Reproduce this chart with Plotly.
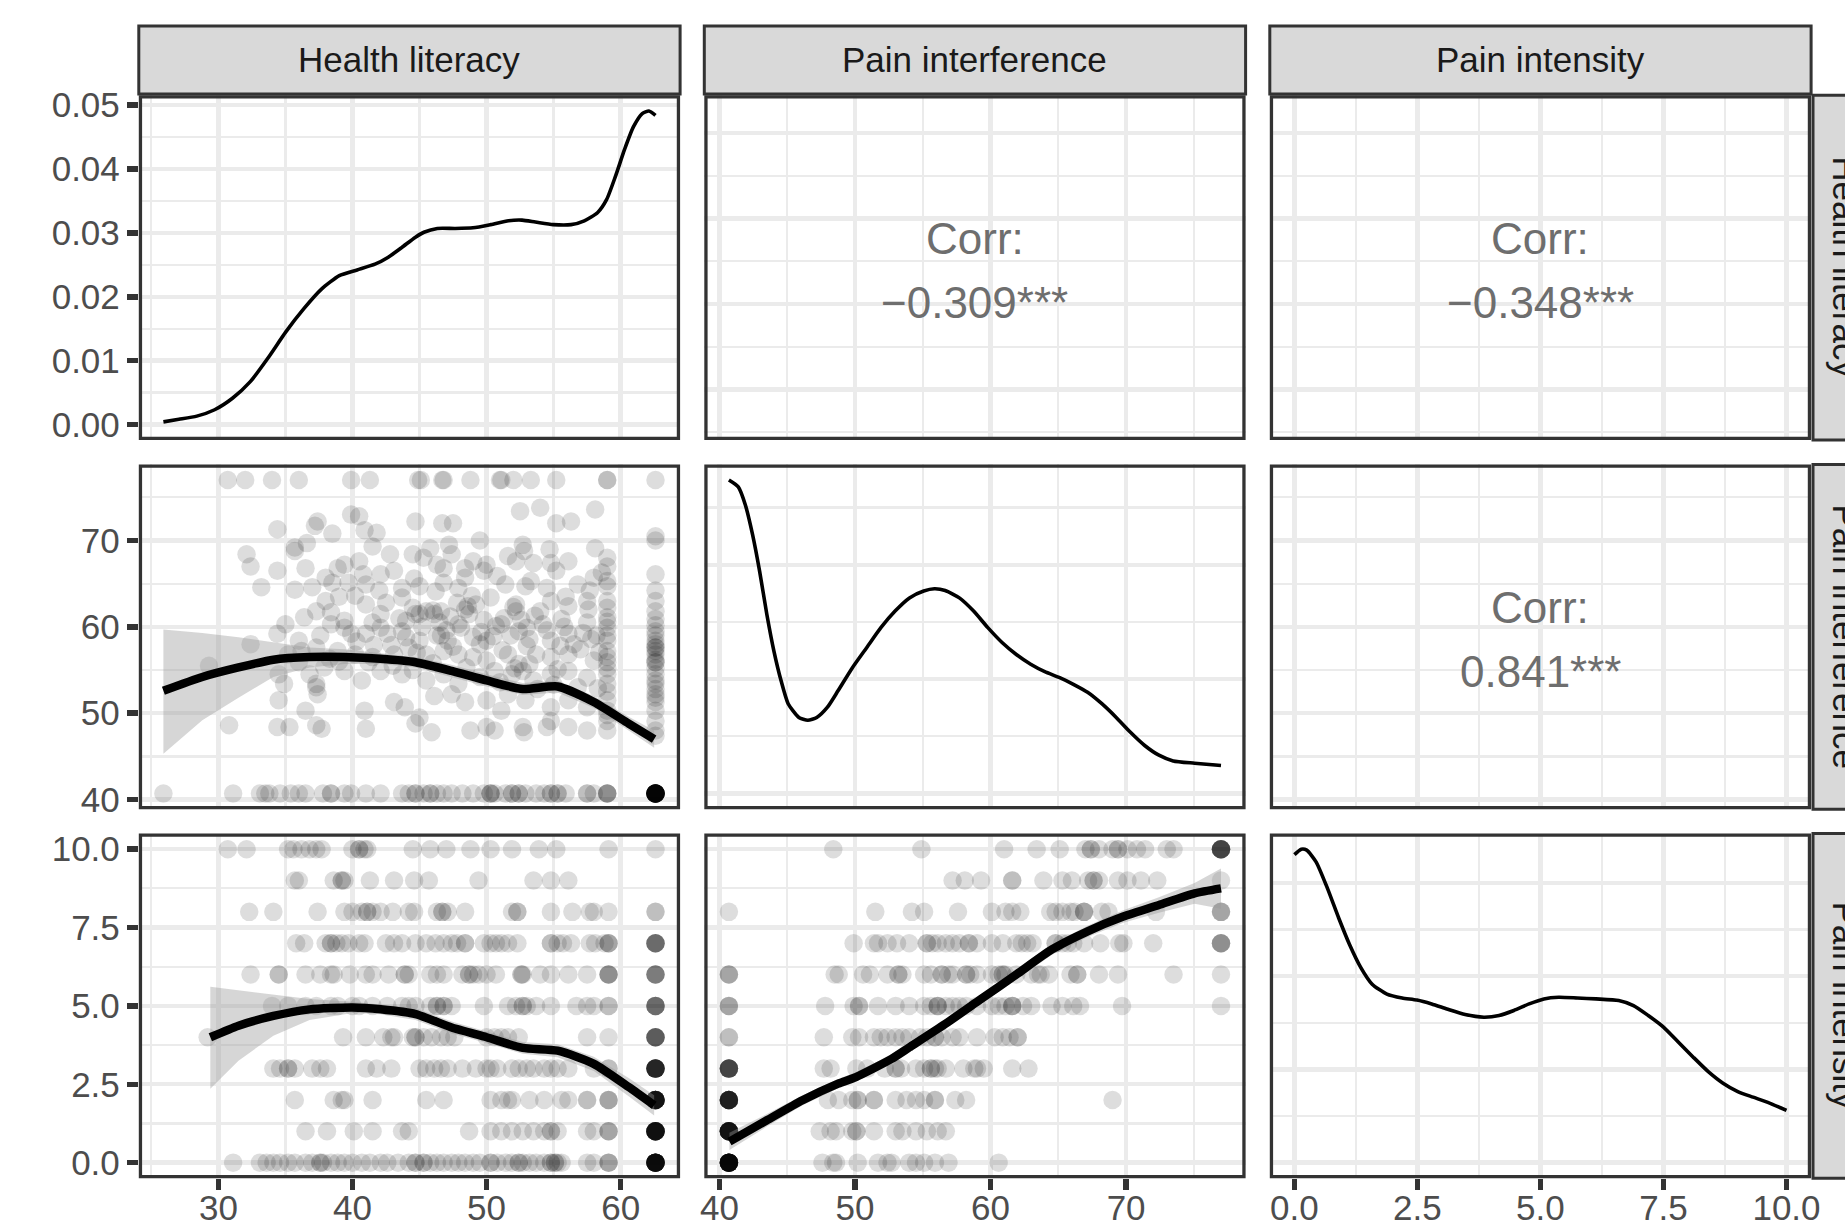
import plotly.graph_objects as go

# ------------------------------------------------------------------ data
variables = ["Health literacy", "Pain interference", "Pain intensity"]

corr_hl_pinf = "\u22120.309***"
corr_hl_pint = "\u22120.348***"
corr_pinf_pint = "0.841***"

# density curves (diagonal)
hl_dens_x = [25.9, 27.06, 28.39, 29.72, 31.05, 32.38, 33.7, 35.03, 36.36, 37.69, 39.02, 40.35,
             41.68, 42.67, 43.67, 44.67, 45.33, 46.33, 47.66, 48.99, 50.31, 51.64, 52.64, 53.64,
             54.97, 56.3, 57.29, 58.29, 58.95, 59.62, 60.28, 60.95, 61.61, 62.11, 62.6]
hl_dens_y = [0.0004, 0.0008, 0.0013, 0.0023, 0.0041, 0.0067, 0.0104, 0.0145, 0.0181, 0.0212, 0.0233,
             0.0242, 0.0251, 0.0262, 0.0277, 0.0293, 0.0301, 0.0307, 0.0307, 0.0308, 0.0313, 0.0319,
             0.032, 0.0317, 0.0313, 0.0313, 0.0319, 0.0332, 0.0352, 0.0389, 0.043, 0.0466, 0.0487,
             0.0491, 0.0484]

pinf_dens_x = [40.7, 41.39, 41.92, 42.45, 42.97, 43.5, 44.02, 44.55, 45.07, 45.86, 46.52, 47.18,
               47.97, 48.76, 49.81, 50.86, 51.91, 52.96, 54.02, 55.07, 55.86, 56.65, 57.7, 58.75,
               59.8, 60.85, 61.9, 62.96, 64.0, 65.06, 66.11, 67.16, 68.21, 69.27, 70.32, 71.37,
               72.42, 73.47, 75.05, 77.0]
pinf_dens_y = [0.0548, 0.0536, 0.0504, 0.0452, 0.0388, 0.0313, 0.0249, 0.0197, 0.0157, 0.0133,
               0.0128, 0.0133, 0.0151, 0.018, 0.022, 0.0255, 0.029, 0.0319, 0.0342, 0.0354, 0.0358,
               0.0355, 0.0342, 0.0319, 0.029, 0.0264, 0.0243, 0.0226, 0.0213, 0.0203, 0.0191,
               0.0177, 0.0157, 0.0133, 0.0107, 0.0084, 0.0067, 0.0057, 0.0053, 0.0049]

pint_dens_x = [0.0, 0.14, 0.25, 0.44, 0.67, 0.9, 1.12, 1.35, 1.58, 1.88, 2.19, 2.49, 2.79, 3.1,
               3.47, 3.85, 4.16, 4.46, 4.77, 5.07, 5.37, 5.75, 6.13, 6.59, 6.89, 7.19, 7.5, 7.8,
               8.1, 8.41, 8.71, 9.01, 9.32, 9.62, 10.0]
pint_dens_y = [0.1652, 0.1681, 0.1676, 0.1613, 0.1472, 0.1312, 0.117, 0.1046, 0.0957, 0.0904,
               0.0883, 0.0872, 0.0851, 0.0824, 0.0794, 0.078, 0.0789, 0.0816, 0.0851, 0.0878,
               0.0887, 0.0883, 0.0878, 0.0869, 0.0842, 0.0789, 0.0727, 0.0647, 0.0567, 0.0488,
               0.0426, 0.0381, 0.0351, 0.0323, 0.028]

# Health literacy vs Pain interference
pinf_floor = 40.7
pinf_ceiling = 77.0
hl_at_pinf_ceiling = [30.7, 32.0, 34.0, 36.0, 39.9, 41.3, 44.9, 45.1, 46.7, 46.8, 48.8, 51.0, 51.1,
                      52.0, 53.3, 55.2, 59.0, 59.0, 62.6]
hl_at_pinf_floor = [25.9, 31.1, 33.1, 33.5, 33.8, 34.6, 35.4, 36.0, 36.5, 37.8, 38.4, 38.4, 39.4,
                    39.9, 41.0, 42.1, 43.7, 44.2, 44.7, 44.7, 45.3, 45.8, 45.8, 46.3, 46.8, 47.4,
                    48.2, 49.0, 49.8, 50.3, 50.3, 50.3, 50.6, 51.4, 51.9, 51.9, 52.4, 52.4, 52.9,
                    53.7, 54.3, 54.8, 54.8, 55.3, 55.3, 55.9, 57.5, 57.5, 58.0, 59.0, 59.0, 59.0,
                    59.0] + [62.6] * 25
hl_pinf_pairs = [
    (52.5, 73.4), (54.0, 73.8), (58.1, 73.6), (39.9, 73.0), (40.5, 72.8), (37.4, 72.2), (37.2, 71.7),
    (34.4, 71.3), (38.5, 70.8), (40.9, 71.2), (41.8, 70.9), (44.7, 72.2), (46.7, 72.0), (47.5, 72.0),
    (55.2, 72.0), (56.3, 72.2), (62.6, 70.5), (62.6, 70.0),
    (35.7, 69.2), (36.6, 69.7), (41.5, 69.3), (45.8, 69.1), (47.2, 69.5), (49.5, 70.0), (52.7, 69.5),
    (52.8, 68.8), (54.7, 69.0), (58.1, 69.1), (32.1, 68.4), (32.4, 67.0), (34.4, 66.5), (35.7, 68.8),
    (36.5, 66.8), (38.9, 66.8), (39.4, 67.2), (40.5, 67.6), (44.5, 68.4), (45.3, 68.0), (46.3, 67.2),
    (46.8, 66.8), (47.4, 68.4), (48.4, 66.8), (49.0, 67.6), (50.0, 67.2), (51.6, 68.2), (52.2, 67.6),
    (53.5, 67.4), (54.8, 67.4), (55.2, 66.5), (56.1, 67.6), (59.0, 68.0), (59.0, 67.0),
    (33.2, 64.6), (35.7, 64.3), (38.0, 65.7), (38.5, 65.1), (39.7, 65.1), (41.0, 64.9), (42.1, 66.1),
    (43.1, 66.5), (43.7, 64.5), (45.0, 64.7), (46.8, 65.1), (48.4, 65.7), (49.8, 66.5), (51.4, 64.9),
    (52.9, 64.7), (54.5, 64.5), (56.8, 64.9), (58.0, 65.7), (59.0, 65.3), (59.0, 64.7), (62.6, 66.1),
    (62.6, 64.2),
    (36.4, 61.1), (37.3, 61.8), (38.4, 61.7), (39.4, 60.7), (40.2, 63.6), (41.0, 62.6), (42.1, 61.5),
    (43.7, 63.4), (44.5, 62.2), (44.7, 61.5), (45.5, 61.8), (46.1, 61.5), (46.6, 61.8), (48.4, 62.0),
    (48.7, 61.5), (50.3, 63.4), (52.2, 62.6), (52.2, 61.8), (54.0, 61.8), (54.8, 63.0), (56.1, 62.4),
    (57.5, 63.0), (59.0, 62.2), (59.0, 61.1), (62.6, 63.0), (62.6, 61.8), (62.6, 60.9),
    (34.4, 59.2), (36.0, 58.4), (37.6, 59.0), (38.4, 60.3), (39.4, 59.9), (39.9, 59.2), (41.0, 59.2),
    (42.1, 59.9), (42.6, 59.2), (43.7, 59.5), (45.0, 58.4), (46.6, 59.0), (47.1, 58.4), (47.9, 60.3),
    (49.0, 58.8), (50.0, 58.4), (51.1, 60.3), (52.4, 59.5), (53.2, 58.6), (54.8, 58.4), (56.1, 59.2),
    (57.5, 60.5), (59.0, 59.9), (59.0, 59.0), (59.0, 58.4), (62.6, 59.5), (62.6, 59.0), (62.6, 58.4),
    (32.4, 58.0), (35.2, 56.8), (36.2, 57.2), (37.3, 57.6), (38.9, 57.2), (40.2, 56.8), (41.5, 56.5),
    (43.1, 56.8), (44.2, 57.6), (45.5, 56.8), (46.8, 57.2), (47.9, 56.8), (49.0, 56.5), (50.0, 56.1),
    (51.6, 56.8), (52.4, 55.7), (53.7, 56.8), (54.8, 56.5), (56.1, 56.8), (58.0, 56.1), (59.0, 55.9),
    (62.6, 57.6), (62.6, 56.8), (62.6, 55.9), (62.6, 54.5),
    (29.3, 55.5), (34.5, 54.5), (34.9, 53.4), (36.8, 54.5), (37.3, 53.4), (39.4, 54.9), (40.7, 53.8),
    (42.1, 54.9), (43.7, 54.5), (45.5, 53.8), (46.8, 54.5), (47.9, 53.4), (50.6, 54.9), (51.9, 54.5),
    (52.7, 54.9), (53.5, 53.8), (54.8, 54.5), (56.1, 54.9), (57.5, 54.1), (59.0, 54.5), (59.0, 53.4),
    (62.6, 53.4), (62.6, 52.2), (62.6, 51.3),
    (34.5, 51.5), (36.5, 50.3), (37.3, 53.0), (37.4, 52.2), (40.9, 50.3), (43.1, 51.3), (43.9, 50.7),
    (45.0, 49.5), (46.1, 52.0), (47.4, 52.2), (48.4, 51.3), (50.0, 51.5), (51.1, 50.3), (51.6, 52.2),
    (52.9, 51.5), (54.8, 50.7), (56.1, 51.5), (57.5, 50.7), (59.0, 51.5), (59.0, 50.3), (62.6, 50.3),
    (30.8, 48.6), (34.4, 48.4), (35.3, 48.4), (37.3, 48.6), (37.7, 48.2), (41.0, 48.2), (44.7, 48.8),
    (45.9, 47.8), (48.8, 48.0), (50.0, 48.4), (50.6, 48.0), (52.7, 48.4), (52.8, 47.8), (54.5, 48.4),
    (54.8, 49.1), (56.1, 48.4), (57.5, 48.0), (59.0, 49.1), (59.0, 48.0), (62.6, 49.1), (62.6, 48.0),
    (62.6, 47.4),
    (45.0, 61.5), (46.0, 61.9), (48.6, 62.4), (49.2, 62.6), (46.3, 59.0), (47.0, 59.6), (44.8, 57.0),
    (47.5, 57.7), (49.5, 58.0), (51.2, 57.3), (53.0, 57.8), (55.5, 57.8), (40.3, 58.3), (41.6, 57.9),
    (38.3, 56.3), (52.1, 55.2), (53.2, 55.7), (55.3, 55.1), (52.0, 62.3), (53.0, 59.9), (57.0, 57.4),
    (58.2, 59.0), (58.4, 57.1), (42.9, 57.9), (44.0, 60.7), (46.2, 64.1), (47.9, 64.5), (51.3, 61.0),
    (50.7, 60.1), (39.0, 63.5), (40.8, 66.1), (42.8, 68.4), (37.0, 64.6), (55.6, 60.9), (57.6, 62.0),
    (58.6, 66.3), (57.2, 59.3), (54.2, 60.3), (48.1, 59.9), (49.8, 60.8),
    (41.5, 60.5), (42.5, 62.8), (43.5, 61.0), (44.0, 58.8), (45.2, 60.0), (46.5, 60.5), (47.3, 61.2),
    (47.8, 62.8), (48.9, 63.6), (49.6, 59.4), (50.5, 58.9), (51.8, 59.0), (52.6, 60.8), (53.6, 61.3),
    (54.5, 59.6), (55.8, 60.0), (56.5, 58.0), (57.8, 58.6), (43.0, 55.5), (44.5, 55.0), (46.0, 55.8),
    (48.5, 55.3), (49.5, 54.2), (51.0, 53.6), (53.8, 52.8), (55.0, 53.3), (56.8, 53.0), (58.3, 52.9),
    (41.2, 55.9), (39.0, 56.0), (37.9, 55.3), (36.0, 55.9), (35.0, 60.3), (38.0, 63.0), (42.0, 64.2),
    (44.6, 65.6), (50.8, 65.9), (53.3, 65.3), (55.9, 63.5), (57.7, 64.2),
    (62.6, 60.2), (62.6, 58.0), (62.6, 57.2), (62.6, 56.2), (62.6, 55.2), (62.6, 53.8), (62.6, 52.8),
    (62.6, 51.8), (62.6, 55.9), (62.6, 57.6),
    (59.0, 63.0), (59.0, 60.6), (59.0, 57.2), (59.0, 56.5), (59.0, 55.2), (59.0, 52.5), (59.0, 49.8),
]

# Pain intensity levels (0..10) and the values observed at each level
pint_levels = [0, 1, 2, 3, 4, 5, 6, 7, 8, 9, 10]
hl_by_pint = [
    [31.1, 33.1, 33.6, 34.1, 34.6, 35.2, 35.7, 36.5, 37.0, 37.6, 37.6, 37.8, 38.4, 38.9, 39.4, 40.0,
     40.7, 41.3, 42.1, 42.6, 43.4, 44.2, 44.7, 44.7, 45.3, 45.3, 45.8, 46.3, 46.8, 47.4, 47.9, 48.4,
     49.0, 49.5, 50.3, 50.3, 50.8, 51.4, 51.9, 52.4, 52.4, 52.7, 53.2, 53.7, 54.3, 54.8, 54.8, 55.1,
     55.1, 55.3, 55.6, 57.5, 58.0, 59.1, 59.1, 59.1] + [62.6] * 20,
    [36.5, 38.1, 40.1, 41.5, 43.7, 44.2, 48.7, 50.3, 51.1, 51.9, 52.7, 53.5, 54.3, 54.8, 54.8, 55.3,
     57.5, 58.0, 59.1, 59.1, 59.1] + [62.6] * 18,
    [35.7, 38.6, 39.2, 39.4, 41.5, 45.5, 46.8, 50.3, 51.1, 51.6, 51.9, 53.2, 54.3, 55.6, 56.1, 57.5,
     57.5, 59.1, 59.1, 59.1] + [62.6] * 17,
    [34.1, 34.6, 35.2, 35.2, 35.7, 37.0, 37.6, 38.1, 41.0, 41.8, 42.9, 45.0, 45.5, 46.1, 46.6, 47.1,
     48.2, 49.2, 50.0, 50.3, 50.8, 51.9, 52.4, 53.0, 53.5, 54.3, 54.8, 55.3, 56.1, 58.0, 59.1,
     59.1] + [62.6] * 13,
    [29.2, 39.3, 41.0, 42.3, 42.9, 43.1, 44.5, 44.7, 44.7, 45.3, 45.9, 46.6, 47.1, 47.6, 50.0, 50.6,
     51.1, 51.6, 52.4, 57.5, 59.1] + [62.6] * 7,
    [34.0, 35.2, 36.5, 37.3, 38.4, 38.9, 40.0, 40.5, 41.5, 42.6, 43.7, 44.2, 44.7, 45.8, 46.3, 46.3,
     46.8, 46.8, 47.4, 49.8, 51.6, 52.2, 52.7, 52.7, 53.0, 53.7, 54.8, 56.7, 57.5, 58.0, 59.1,
     59.1] + [62.6] * 6,
    [32.4, 34.5, 34.5, 36.5, 37.6, 38.4, 38.6, 39.8, 41.0, 41.5, 42.7, 43.9, 43.9, 44.2, 45.8, 46.3,
     46.8, 48.2, 48.7, 48.7, 49.0, 49.4, 50.0, 50.7, 52.6, 52.6, 52.7, 54.0, 54.8, 56.1, 57.5, 59.1,
     59.1, 59.1, 59.1] + [62.6] * 5,
    [35.8, 36.4, 38.0, 38.4, 38.4, 38.8, 39.2, 39.7, 40.5, 40.9, 42.5, 43.1, 43.7, 44.7, 45.5, 46.2,
     46.8, 47.4, 47.8, 48.4, 48.4, 49.8, 50.3, 50.7, 51.1, 51.6, 52.3, 54.8, 54.8, 55.3, 55.7, 56.3,
     57.7, 58.1, 58.8, 59.1, 59.1, 59.1] + [62.6] * 6,
    [32.3, 34.1, 37.4, 39.4, 40.0, 40.7, 41.1, 41.1, 41.5, 42.1, 43.0, 44.2, 44.6, 46.3, 46.7, 46.7,
     47.1, 48.4, 51.9, 52.3, 52.3, 54.8, 56.4, 57.7, 58.0, 59.1, 62.6, 62.6],
    [35.7, 36.0, 38.6, 39.2, 39.2, 39.4, 41.3, 43.1, 44.6, 45.7, 49.4, 53.5, 54.8, 56.1],
    [30.7, 32.1, 35.2, 35.6, 36.2, 36.8, 37.3, 37.7, 40.0, 40.5, 40.5, 40.9, 41.1, 44.5, 45.8, 47.0,
     48.8, 50.3, 51.9, 53.9, 55.2, 59.1, 62.6],
]
pinf_by_pint = [
    [pinf_floor] * 22 + [47.6, 48.4, 48.6, 50.2, 51.7, 52.4, 52.7, 54.0, 54.5, 55.1, 55.9, 56.9, 60.6],
    [pinf_floor] * 17 + [47.4, 48.2, 48.6, 49.8, 50.1, 50.1, 51.4, 53.0, 53.5, 54.5, 55.3, 56.1, 56.7],
    [pinf_floor] * 14 + [48.0, 48.8, 49.8, 50.2, 50.2, 51.4, 51.4, 53.0, 53.8, 54.5, 55.1, 55.9, 55.9,
                         57.4, 58.2, 69.0],
    [pinf_floor] * 9 + [47.7, 48.2, 50.1, 50.9, 52.2, 53.0, 53.0, 53.4, 54.5, 55.1, 55.6, 55.6, 55.9,
                        56.1, 56.7, 58.0, 58.8, 59.0, 59.5, 61.6, 62.8],
    [pinf_floor] * 2 + [47.7, 49.8, 50.3, 51.4, 51.9, 52.4, 53.0, 53.5, 54.0, 54.8, 55.3, 55.9, 55.9,
                        56.4, 57.2, 57.7, 59.0, 60.3, 60.9, 61.4, 62.0, 62.0],
    [pinf_floor] * 3 + [47.8, 49.9, 50.3, 50.3, 51.7, 53.0, 54.0, 55.1, 55.6, 56.1, 56.1, 56.1, 56.7,
                        57.2, 57.7, 58.2, 59.0, 60.1, 60.6, 61.1, 61.6, 61.6, 61.6, 62.4, 63.0, 64.5,
                        65.3, 66.1, 66.6, 69.7, pinf_ceiling],
    [pinf_floor] * 3 + [48.5, 48.8, 50.6, 51.1, 52.4, 53.2, 53.2, 53.5, 55.1, 55.6, 56.4, 56.4, 56.9,
                        57.2, 58.2, 58.2, 58.5, 59.0, 60.1, 60.6, 60.9, 60.9, 61.1, 61.9, 63.0, 63.5,
                        63.7, 64.3, 65.9, 66.4, 66.4, 68.0, 69.4, 73.5, pinf_ceiling],
    [49.9, 51.4, 51.7, 52.4, 53.1, 54.0, 55.3, 55.3, 55.7, 56.1, 56.7, 57.2, 57.7, 58.4, 58.4, 59.0,
     60.1, 60.9, 61.9, 62.3, 62.7, 63.1, 64.8, 64.8, 65.3, 65.7, 66.1, 66.9, 68.1, 69.5, 69.8, 72.0]
    + [pinf_ceiling] * 4,
    [pinf_floor, 51.5, 54.2, 55.1, 57.6, 60.1, 61.1, 61.6, 62.2, 64.4, 64.8, 65.3, 65.9, 66.2, 66.9,
     66.9, 66.9, 68.2, 68.7, 72.2] + [pinf_ceiling] * 3,
    [57.2, 58.1, 59.3, 61.6, 61.6, 63.9, 65.3, 66.0, 67.2, 67.6, 67.6, 68.0, 69.4, 70.1, 71.1, 72.3,
     pinf_ceiling],
    [48.4, 54.9, 61.0, 63.4, 65.1, 67.0, 67.4, 67.4, 68.0, 69.0, 69.4, 69.4, 70.1, 70.8, 71.4, 73.0,
     73.5] + [pinf_ceiling] * 9,
]

# smooth fits with confidence band
sm_hl_pinf_x = [25.9, 28.8, 31.5, 34.1, 36.8, 39.4, 42.1, 44.7, 47.4, 50.0, 52.7, 55.3, 58.0, 60.6, 62.5]
sm_hl_pinf_fit = [52.6, 54.2, 55.3, 56.2, 56.5, 56.5, 56.3, 55.9, 54.9, 53.8, 52.8, 53.1, 51.3, 48.8, 47.0]
sm_hl_pinf_hi = [59.7, 59.3, 58.8, 58.2, 57.6, 57.4, 56.9, 56.5, 55.6, 54.5, 53.5, 53.8, 52.0, 49.6, 48.0]
sm_hl_pinf_lo = [45.3, 49.2, 51.8, 54.2, 55.3, 55.7, 55.7, 55.3, 54.2, 53.1, 52.1, 52.4, 50.6, 48.0, 46.0]

sm_hl_pint_x = [29.4, 31.5, 34.1, 36.8, 40.0, 42.1, 44.7, 47.4, 50.0, 52.7, 55.3, 58.0, 60.6, 62.5]
sm_hl_pint_fit = [4.0, 4.37, 4.68, 4.89, 4.95, 4.89, 4.74, 4.31, 4.0, 3.66, 3.57, 3.15, 2.41, 1.83]
sm_hl_pint_hi = [5.61, 5.5, 5.35, 5.22, 5.13, 5.05, 4.93, 4.5, 4.18, 3.85, 3.78, 3.38, 2.7, 2.15]
sm_hl_pint_lo = [2.36, 3.25, 4.05, 4.55, 4.77, 4.73, 4.55, 4.12, 3.82, 3.47, 3.36, 2.92, 2.12, 1.5]

sm_pinf_pint_x = [40.74, 43.5, 46.13, 48.76, 50.07, 52.7, 54.02, 56.65, 59.27, 61.9, 64.53, 67.16,
                  69.79, 72.42, 75.05, 77.0]
sm_pinf_pint_fit = [0.67, 1.35, 1.99, 2.52, 2.73, 3.31, 3.68, 4.42, 5.21, 6.0, 6.8, 7.38, 7.85, 8.22,
                    8.59, 8.75]
sm_pinf_pint_hi = [0.95, 1.55, 2.15, 2.67, 2.88, 3.46, 3.83, 4.57, 5.36, 6.16, 6.97, 7.56, 8.05, 8.47,
                   8.92, 9.38]
sm_pinf_pint_lo = [0.40, 1.15, 1.83, 2.37, 2.58, 3.16, 3.53, 4.27, 5.06, 5.84, 6.63, 7.2, 7.65, 7.97,
                   8.26, 8.1]

# tick definitions
hl_ticks = [30, 40, 50, 60]
hl_minor = [25, 35, 45, 55, 65]
pinf_ticks = [40, 50, 60, 70]
pinf_minor = [45, 55, 65, 75]
pint_ticks = [0, 2.5, 5, 7.5, 10]
pint_ticktext = ["0.0", "2.5", "5.0", "7.5", "10.0"]
pint_minor = [1.25, 3.75, 6.25, 8.75]
hl_dens_ticks = [0, 0.01, 0.02, 0.03, 0.04, 0.05]
hl_dens_ticktext = ["0.00", "0.01", "0.02", "0.03", "0.04", "0.05"]
hl_dens_minor = [0.005, 0.015, 0.025, 0.035, 0.045]
pinf_dens_ticks = [0, 0.02, 0.04]
pinf_dens_minor = [0.01, 0.03, 0.05]
pint_dens_ticks = [0, 0.05, 0.1, 0.15]
pint_dens_minor = [0.025, 0.075, 0.125]

# ------------------------------------------------------------------ layout constants
W, H = 1845, 1223
FONT = "Liberation Sans, Arial, Helvetica, sans-serif"
GRID = "#EBEBEB"
DARK = "#333333"
COL_X0 = [138.8, 704.3, 1269.8]
PANEL_W = 541.3
ROW_Y0 = [95.3, 464.4, 833.5]
PANEL_H = 344.8
STRIP_TOP = 25.9
STRIP_BOTTOM = 94.0
STRIP_W = 68.0


def expand(lo, hi, frac=0.05):
    d = (hi - lo) * frac
    return [lo - d, hi + d]


# data ranges (ggplot-like 5% expansion)
all_hl = hl_dens_x + hl_at_pinf_floor + hl_at_pinf_ceiling + [p[0] for p in hl_pinf_pairs] + \
    [v for row in hl_by_pint for v in row]
all_pinf = [pinf_floor, pinf_ceiling] + [p[1] for p in hl_pinf_pairs] + \
    [v for row in pinf_by_pint for v in row] + pinf_dens_x
hl_range = expand(min(all_hl), max(all_hl))
pinf_range = expand(min(all_pinf), max(all_pinf))
pint_range = expand(min(pint_levels), max(pint_levels))
hl_dens_range = expand(0, max(hl_dens_y))
pinf_dens_range = expand(0, max(pinf_dens_y))
pint_dens_range = expand(0, max(pint_dens_y))

var_axis = {
    0: (hl_range, hl_ticks, [str(v) for v in hl_ticks], hl_minor),
    1: (pinf_range, pinf_ticks, [str(v) for v in pinf_ticks], pinf_minor),
    2: (pint_range, pint_ticks, pint_ticktext, pint_minor),
}
dens_axis = {
    0: (hl_dens_range, hl_dens_ticks, hl_dens_ticktext, hl_dens_minor),
    1: (pinf_dens_range, pinf_dens_ticks, [str(v) for v in pinf_dens_ticks], pinf_dens_minor),
    2: (pint_dens_range, pint_dens_ticks, [str(v) for v in pint_dens_ticks], pint_dens_minor),
}


def idx(r, c):
    return r * 3 + c + 1


def axname(prefix, k):
    return prefix if k == 1 else f"{prefix}{k}"


fig = go.Figure()
layout = dict(
    width=W, height=H, margin=dict(l=0, r=0, t=0, b=0, pad=0),
    paper_bgcolor="white", plot_bgcolor="white", showlegend=False,
    template="none", hovermode=False, font=dict(family=FONT),
)
shapes = []
annotations = []


def make_axis(spec, domain, anchor, show_labels, side_y=False):
    rng, ticks, ticktext, minor = spec
    return dict(
        domain=domain, range=rng, anchor=anchor, autorange=False, fixedrange=True,
        tickmode="array", tickvals=ticks, ticktext=ticktext,
        showticklabels=show_labels, ticks="outside" if show_labels else "",
        ticklen=11, tickwidth=5.5, tickcolor=DARK,
        tickfont=dict(family=FONT, size=35, color="#4D4D4D"),
        ticklabelstandoff=0 if side_y else -12,
        showgrid=True, gridcolor=GRID, gridwidth=4.3,
        minor=dict(tickmode="array", tickvals=minor, showgrid=True, gridcolor=GRID,
                   gridwidth=2.2, ticks=""),
        zeroline=False, showline=False, automargin=False,
    )


for r in range(3):
    for c in range(3):
        k = idx(r, c)
        x0 = COL_X0[c]
        x1 = x0 + PANEL_W
        y0 = ROW_Y0[r]
        y1 = y0 + PANEL_H
        xd = [x0 / W, x1 / W]
        yd = [1 - y1 / H, 1 - y0 / H]
        xspec = var_axis[c]
        yspec = dens_axis[r] if r == c else var_axis[r]
        layout[axname("xaxis", k)] = make_axis(xspec, xd, axname("y", k), r == 2)
        layout[axname("yaxis", k)] = make_axis(yspec, yd, axname("x", k), c == 0, side_y=True)
        # panel border (drawn inside the panel)
        hw = 1.65
        shapes.append(dict(type="rect", xref="paper", yref="paper", layer="above",
                           x0=(x0 + hw) / W, x1=(x1 - hw) / W,
                           y0=1 - (y1 - hw) / H, y1=1 - (y0 + hw) / H,
                           line=dict(color=DARK, width=3.3), fillcolor="rgba(0,0,0,0)"))

# top strips
for c in range(3):
    x0 = COL_X0[c]
    x1 = x0 + PANEL_W
    shapes.append(dict(type="rect", xref="paper", yref="paper", layer="above",
                       x0=x0 / W, x1=x1 / W, y0=1 - STRIP_BOTTOM / H, y1=1 - STRIP_TOP / H,
                       line=dict(color=DARK, width=3), fillcolor="#D9D9D9"))
    annotations.append(dict(xref="paper", yref="paper", x=(x0 + x1) / 2 / W,
                            y=1 - (STRIP_TOP + STRIP_BOTTOM) / 2 / H, text=variables[c],
                            showarrow=False, xanchor="center", yanchor="middle",
                            font=dict(family=FONT, size=35, color="#1A1A1A")))

# right strips (partly outside the picture)
sx0 = COL_X0[2] + PANEL_W + 1.9
for r in range(3):
    y0 = ROW_Y0[r]
    y1 = y0 + PANEL_H
    shapes.append(dict(type="rect", xref="paper", yref="paper", layer="above",
                       x0=sx0 / W, x1=(sx0 + STRIP_W) / W, y0=1 - y1 / H, y1=1 - y0 / H,
                       line=dict(color=DARK, width=3), fillcolor="#D9D9D9"))
    annotations.append(dict(xref="paper", yref="paper", x=(sx0 + STRIP_W / 2 - 1.5) / W,
                            y=1 - (y0 + y1) / 2 / H, text=variables[r], textangle=90,
                            showarrow=False, xanchor="center", yanchor="middle",
                            font=dict(family=FONT, size=35, color="#1A1A1A")))

POINT = dict(size=18.5, color="rgba(0,0,0,0.135)", line=dict(width=0))


def add_points(k, xs, ys):
    fig.add_trace(go.Scatter(x=xs, y=ys, mode="markers", marker=POINT,
                             xaxis=axname("x", k), yaxis=axname("y", k), hoverinfo="skip"))


def add_smooth(k, xs, fit, lo, hi):
    fig.add_trace(go.Scatter(x=xs + xs[::-1], y=hi + lo[::-1], mode="lines", fill="toself",
                             fillcolor="rgba(153,153,153,0.4)", line=dict(width=0),
                             xaxis=axname("x", k), yaxis=axname("y", k), hoverinfo="skip"))
    fig.add_trace(go.Scatter(x=xs, y=fit, mode="lines", line=dict(color="black", width=8.5,
                                                                  shape="spline", smoothing=0.6),
                             xaxis=axname("x", k), yaxis=axname("y", k), hoverinfo="skip"))


def add_density(k, xs, ys):
    fig.add_trace(go.Scatter(x=xs, y=ys, mode="lines",
                             line=dict(color="black", width=3.6, shape="spline", smoothing=0.6),
                             xaxis=axname("x", k), yaxis=axname("y", k), hoverinfo="skip"))


# diagonal densities
add_density(idx(0, 0), hl_dens_x, hl_dens_y)
add_density(idx(1, 1), pinf_dens_x, pinf_dens_y)
add_density(idx(2, 2), pint_dens_x, pint_dens_y)

# Health literacy vs Pain interference
k = idx(1, 0)
xs = hl_at_pinf_floor + hl_at_pinf_ceiling + [p[0] for p in hl_pinf_pairs]
ys = [pinf_floor] * len(hl_at_pinf_floor) + [pinf_ceiling] * len(hl_at_pinf_ceiling) + \
    [p[1] for p in hl_pinf_pairs]
add_points(k, xs, ys)
add_smooth(k, sm_hl_pinf_x, sm_hl_pinf_fit, sm_hl_pinf_lo, sm_hl_pinf_hi)

# Health literacy vs Pain intensity
k = idx(2, 0)
xs, ys = [], []
for lev, row in zip(pint_levels, hl_by_pint):
    xs += row
    ys += [lev] * len(row)
add_points(k, xs, ys)
add_smooth(k, sm_hl_pint_x, sm_hl_pint_fit, sm_hl_pint_lo, sm_hl_pint_hi)

# Pain interference vs Pain intensity
k = idx(2, 1)
xs, ys = [], []
for lev, row in zip(pint_levels, pinf_by_pint):
    xs += row
    ys += [lev] * len(row)
add_points(k, xs, ys)
add_smooth(k, sm_pinf_pint_x, sm_pinf_pint_fit, sm_pinf_pint_lo, sm_pinf_pint_hi)

# correlation panels
for (r, c, val) in [(0, 1, corr_hl_pinf), (0, 2, corr_hl_pint), (1, 2, corr_pinf_pint)]:
    k = idx(r, c)
    fig.add_trace(go.Scatter(x=[None], y=[None], mode="markers",
                             xaxis=axname("x", k), yaxis=axname("y", k), hoverinfo="skip"))
    for txt, shift in [("Corr:", 29.5), (val, -35)]:
        annotations.append(dict(xref=f"{axname('x', k)} domain", yref=f"{axname('y', k)} domain",
                                x=0.5, y=0.5, yshift=shift, text=txt, showarrow=False,
                                xanchor="center", yanchor="middle",
                                font=dict(family=FONT, size=44, color="#6E6E6E")))

layout["shapes"] = shapes
layout["annotations"] = annotations
fig.update_layout(**layout)
fig.write_html(
    "out.html",
    config={"displayModeBar": False, "staticPlot": True},
    post_script="document.body.style.margin='0px';document.body.style.overflow='hidden';",
)
